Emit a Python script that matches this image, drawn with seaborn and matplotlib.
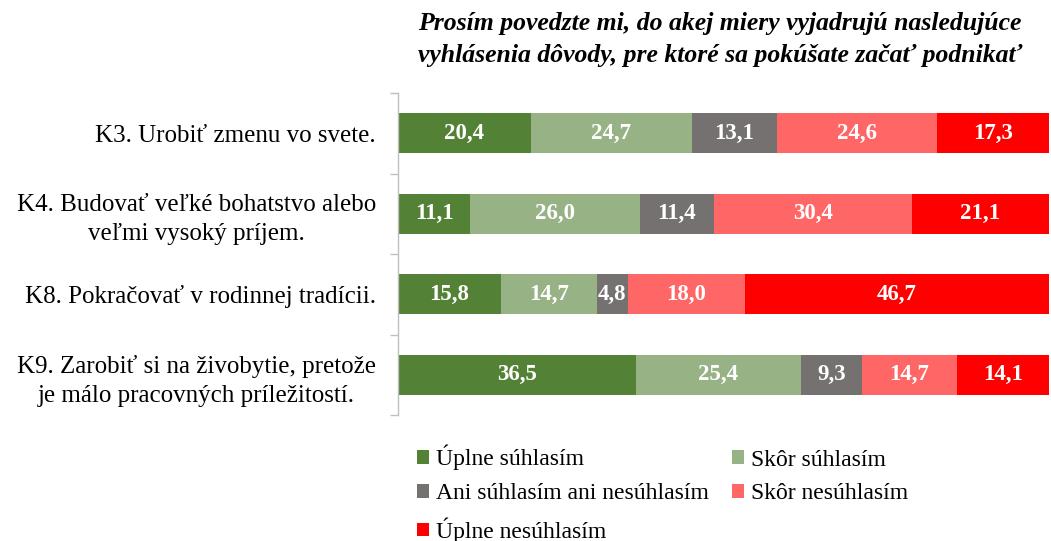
import matplotlib
matplotlib.use("Agg")
import matplotlib.pyplot as plt
import seaborn as sns
import numpy as np
import pandas as pd
from matplotlib.patches import Patch

categories = [
    "K3. Urobiť zmenu vo svete.",
    "K4. Budovať veľké bohatstvo alebo\nveľmi vysoký príjem.",
    "K8. Pokračovať v rodinnej tradícii.",
    "K9. Zarobiť si na živobytie, pretože\nje málo pracovných príležitostí.",
]
series_names = [
    "Úplne súhlasím",
    "Skôr súhlasím",
    "Ani súhlasím ani nesúhlasím",
    "Skôr nesúhlasím",
    "Úplne nesúhlasím",
]
uplne_suhlasim = [20.4, 11.1, 15.8, 36.5]
skor_suhlasim = [24.7, 26.0, 14.7, 25.4]
ani_ani = [13.1, 11.4, 4.8, 9.3]
skor_nesuhlasim = [24.6, 30.4, 18.0, 14.7]
uplne_nesuhlasim = [17.3, 21.1, 46.7, 14.1]
colors = ["#538135", "#97B285", "#767171", "#FF6666", "#FF0000"]
title = ("Prosím povedzte mi, do akej miery vyjadrujú nasledujúce\n"
         "vyhlásenia dôvody, pre ktoré sa pokúšate začať podnikať")

sns.set_theme(style="white")
plt.rcParams["font.family"] = ["Liberation Serif", "DejaVu Serif"]
plt.rcParams["text.color"] = "black"

values = np.array([uplne_suhlasim, skor_suhlasim, ani_ani, skor_nesuhlasim, uplne_nesuhlasim])
cum = np.cumsum(values, axis=0)

fig = plt.figure(figsize=(10.51, 5.41), dpi=100)
ax = fig.add_axes([398 / 1051, 1 - 415 / 541, (1049 - 398) / 1051, (415 - 93) / 541])

for i in range(len(series_names) - 1, -1, -1):
    df = pd.DataFrame({"cat": categories, "val": cum[i]})
    sns.barplot(data=df, x="val", y="cat", orient="h", color=colors[i],
                width=0.5, ax=ax, saturation=1, linewidth=0)

for i in range(len(series_names)):
    for j in range(len(categories)):
        v = values[i, j]
        ax.text(cum[i, j] - v / 2, j, f"{v:.1f}".replace(".", ","),
                ha="center", va="center", color="white", fontsize=16.5,
                fontweight="bold")

ax.set_xlim(0, 100)
ax.set_ylim(len(categories) - 0.5, -0.5)
ax.set_xlabel("")
ax.set_ylabel("")
ax.set_xticks([])
for s in ["top", "right", "bottom"]:
    ax.spines[s].set_visible(False)
ax.spines["left"].set_color("#BFBFBF")
ax.spines["left"].set_linewidth(1)
ax.set_yticks(np.arange(-0.5, len(categories), 1.0), minor=True)
ax.tick_params(axis="y", which="minor", length=6, color="#BFBFBF", width=1, left=True)
ax.tick_params(axis="y", which="major", length=0, pad=16, labelsize=18)
for lab in ax.get_yticklabels():
    lab.set_multialignment("center")
    lab.set_linespacing(1.4)
    lab.set_color("black")

fig.text(720 / 1051, 1 - 12 / 541, title, ha="center", va="top", fontsize=18.5,
         fontweight="bold", fontstyle="italic", linespacing=1.5)

handles = [Patch(facecolor=c, edgecolor="none") for c in colors]
order = [0, 2, 4, 1, 3]
fig.legend([handles[k] for k in order], [series_names[k] for k in order],
           loc="upper left", bbox_to_anchor=(417 / 1051, 1 - 445 / 541),
           ncol=2, frameon=False, fontsize=17, handlelength=0.5, handleheight=0.5,
           handletextpad=0.3, columnspacing=1.0, labelspacing=0.55,
           borderaxespad=0, borderpad=0)

fig.savefig("out.png", dpi=100)
